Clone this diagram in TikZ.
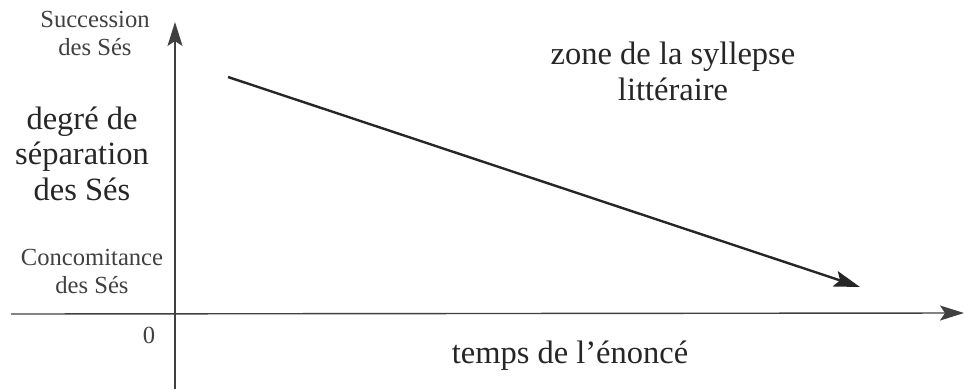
\documentclass[tikz,border=0pt]{standalone}
\usepackage{fontspec}
\setmainfont{Liberation Serif}
\usetikzlibrary{arrows.meta}
\tikzset{
  axis/.style={draw=black!75, line width=1.4pt, -{Stealth[length=24pt,width=15pt,inset=5pt]}},
  trend/.style={draw=black!85, line width=2.4pt, -{Stealth[length=26pt,width=16pt,inset=5pt]}},
  small/.style={font=\fontsize{24.6}{28}\selectfont, text=black!75, align=center, inner sep=0pt},
  big/.style={font=\fontsize{32.5}{35.5}\selectfont, text=black!85, align=center, inner sep=0pt},
}
\begin{document}
\begin{tikzpicture}[x=1pt,y=-1pt]
\useasboundingbox (0,0) rectangle (964,389);
% axes
\coordinate (ybot) at (175,389);
\coordinate (ytop) at (175,22);
\coordinate (xleft) at (11,314);
\coordinate (xright) at (964,313);
\draw[axis] (ybot) -- (ytop);
\draw[axis] (xleft) -- (xright);
% trend arrow
\coordinate (ts) at (228,77);
\coordinate (te) at (860,287);
\draw[trend] (ts) -- (te);
% labels (anchor=base is the baseline of the last line)
\node[small, anchor=base] (succ) at (95,55) {Succession\\des Sés};
\node[big, anchor=base] (deg) at (82,200) {degré de\\séparation\\des Sés};
\node[small, anchor=base] (conc) at (92,293) {Concomitance\\des Sés};
\node[small, anchor=base] (zero) at (149,343) {0};
\node[big, anchor=base] (zone) at (673,100) {zone de la syllepse\\littéraire};
\node[big, anchor=base] (temps) at (570,363) {temps de l’énoncé};
\end{tikzpicture}
\end{document}
